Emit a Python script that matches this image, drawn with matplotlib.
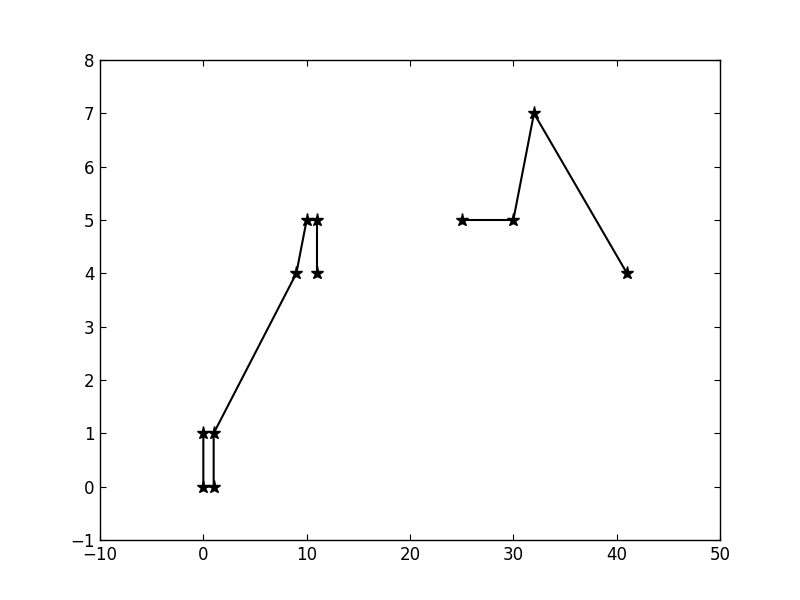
import matplotlib
matplotlib.use("Agg")
import matplotlib.pyplot as plt

x1 = [0, 0, 1, 1, 9, 10, 11, 11]
y1 = [1, 0, 0, 1, 4, 5, 5, 4]
x2 = [25, 30, 32, 41]
y2 = [5, 5, 7, 4]

plt.rcParams['font.family'] = ['DejaVu Sans']
plt.rcParams['font.size'] = 12
fig = plt.figure(figsize=(8, 6), dpi=100)
ax = fig.add_axes([0.125, 0.1, 0.775, 0.8])
ax.plot(x1, y1, color='black', marker='*', markersize=9.5, linewidth=1.5)
ax.plot(x2, y2, color='black', marker='*', markersize=9.5, linewidth=1.5)
ax.set_xlim(-10, 50)
ax.set_ylim(-1, 8)
ax.set_xticks(range(-10, 51, 10))
ax.set_yticks(range(-1, 9))
ax.tick_params(direction='in', top=True, right=True, length=4, labelsize=12, pad=4)
for s in ax.spines.values():
    s.set_linewidth(1)
fig.savefig("out.png", dpi=100)
